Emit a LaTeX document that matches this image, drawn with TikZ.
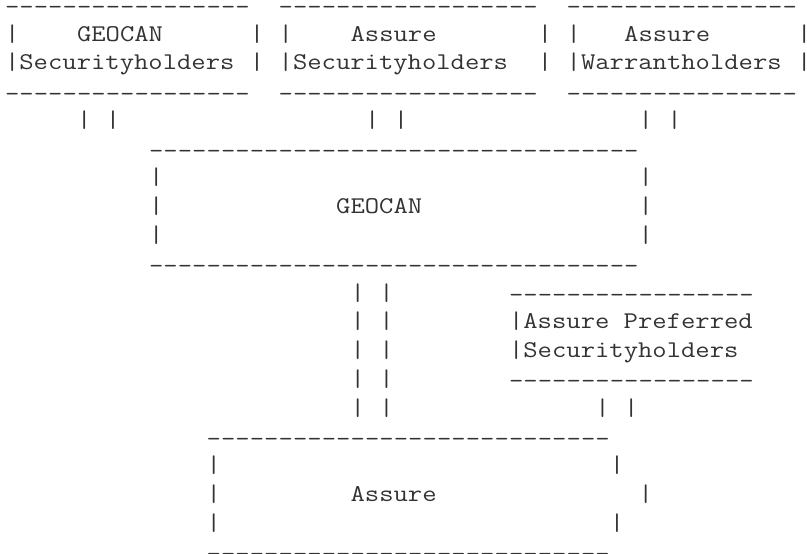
\documentclass[tikz,border=0pt]{standalone}
\usepackage{fontspec}
\setmonofont[FakeStretch=1.16]{Latin Modern Mono}
\newcommand{\onedash}{\hbox to 14.4pt{\hss\lower 2.5pt\hbox{-}\hss}}
\newcommand{\dashrun}[1]{\foreach \i in {1,...,#1}{\onedash}}
\newcommand{\T}[4]{\node[asciitext] (#1) at ({5+14.4*#2},{12.3+28.77*#3}) {#4};}
\newcommand{\D}[4]{\node[asciitext] (#1) at ({5+14.4*#2},{12.3+28.77*#3}) {\dashrun{#4}};}
\newcommand{\B}[3]{\node[asciitext,anchor=base] (#1) at ({12.2+14.4*#2},{12.3+28.77*#3}) {\hbox to 0pt{\hss|\hss}};}
\tikzset{asciitext/.style={anchor=base west,inner sep=0pt,outer sep=0pt,font=\fontsize{24pt}{28pt}\selectfont\ttfamily,text=black!80}}
\begin{document}
\begin{tikzpicture}[x=1pt,y=-1pt]
\useasboundingbox (0,0) rectangle (807,554);
% top row
\D{a0}{0}{0}{17}\D{b0}{19}{0}{18}\D{c0}{39}{0}{16}
\B{a1l}{0}{1}\T{a1t}{5}{1}{GEOCAN}\B{a1r}{17}{1}
\B{b1l}{19}{1}\T{b1t}{24}{1}{Assure}\B{b1r}{37}{1}
\B{c1l}{39}{1}\T{c1t}{43}{1}{Assure}\B{c1r}{55}{1}
\B{a2l}{0}{2}\T{a2t}{1}{2}{Securityholders}\B{a2r}{17}{2}
\B{b2l}{19}{2}\T{b2t}{20}{2}{Securityholders}\B{b2r}{37}{2}
\B{c2l}{39}{2}\T{c2t}{40}{2}{Warrantholders}\B{c2r}{55}{2}
\D{a3}{0}{3}{17}\D{b3}{19}{3}{18}\D{c3}{39}{3}{16}
\B{p1}{5}{4}\B{p2}{7}{4}\B{p3}{25}{4}\B{p4}{27}{4}\B{p5}{44}{4}\B{p6}{46}{4}
% GEOCAN box
\D{g5}{10}{5}{34}
\B{g6l}{10}{6}\B{g6r}{44}{6}
\B{g7l}{10}{7}\T{g7t}{23}{7}{GEOCAN}\B{g7r}{44}{7}
\B{g8l}{10}{8}\B{g8r}{44}{8}
\D{g9}{10}{9}{34}
% middle
\B{q10a}{24}{10}\B{q10b}{26}{10}\D{d10}{35}{10}{17}
\B{q11a}{24}{11}\B{q11b}{26}{11}\B{d11l}{35}{11}\T{d11t}{36}{11}{Assure Preferred}
\B{q12a}{24}{12}\B{q12b}{26}{12}\B{d12l}{35}{12}\T{d12t}{36}{12}{Securityholders}
\B{q13a}{24}{13}\B{q13b}{26}{13}\D{d13}{35}{13}{17}
\B{q14a}{24}{14}\B{q14b}{26}{14}\B{q14c}{41}{14}\B{q14d}{43}{14}
% Assure box
\D{e15}{14}{15}{28}
\B{e16l}{14}{16}\B{e16r}{42}{16}
\B{e17l}{14}{17}\T{e17t}{24}{17}{Assure}\B{e17r}{44}{17}
\B{e18l}{14}{18}\B{e18r}{42}{18}
\D{e19}{14}{19}{28}
\end{tikzpicture}
\end{document}
